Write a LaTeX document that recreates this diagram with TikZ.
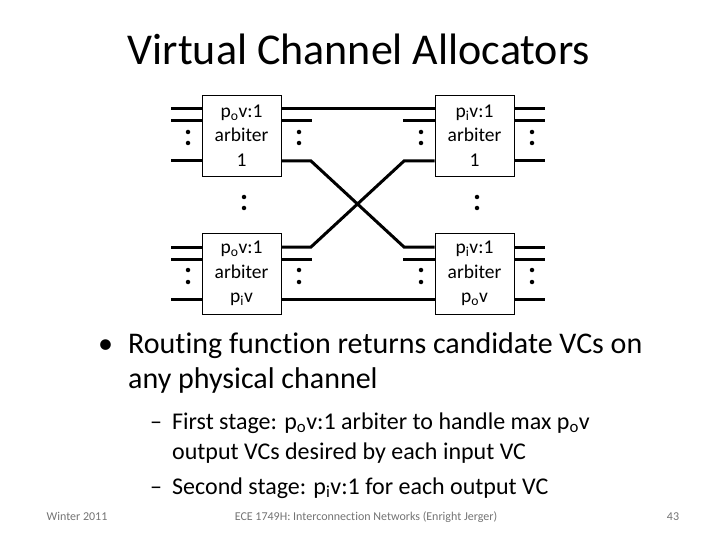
\documentclass[tikz,border=0pt]{standalone}
\usepackage{fontspec}
\setmainfont{Carlito}[Ligatures={NoCommon}]
\usetikzlibrary{calc}
\begin{document}
\begin{tikzpicture}[x=1pt,y=-1pt,
  box/.style={draw,line width=0.9pt,minimum width=79pt,minimum height=81pt,inner sep=0pt,align=center,font=\fontsize{19.5}{24.5}\selectfont},
  wire/.style={line width=3pt},
  vdot/.style={circle,fill,inner sep=0pt,minimum size=4.5pt},
  bul/.style={anchor=base west,inner sep=0pt,font=\fontsize{30}{34}\selectfont},
  sub/.style={anchor=base west,inner sep=0pt,font=\fontsize{24}{28}\selectfont},
  foot/.style={anchor=base,inner sep=0pt,text=black!55,font=\fontsize{12}{14}\selectfont}]
\useasboundingbox (0,0) rectangle (720,540);
% title
\node[anchor=base,inner sep=0pt,font=\fontsize{44}{50}\selectfont] (title) at (359,65) {Virtual Channel Allocators};
% boxes
\node[box] (A1) at (241.5,135.5) {p\textsubscript{o}v:1\\arbiter\\1};
\node[box] (A2) at (241.5,273.5) {p\textsubscript{o}v:1\\arbiter\\p\textsubscript{i}v};
\node[box] (B1) at (474.5,135.5) {p\textsubscript{i}v:1\\arbiter\\1};
\node[box] (B2) at (474.5,273.5) {p\textsubscript{i}v:1\\arbiter\\p\textsubscript{o}v};
% wire rows
\coordinate (r1) at (0,109);
\coordinate (r2) at (0,121);
\coordinate (r3) at (0,161);
\coordinate (s1) at (0,247);
\coordinate (s2) at (0,259);
\coordinate (s3) at (0,299);
% bend points of the crossing
\coordinate (ka) at (311,161);
\coordinate (kb) at (404,247);
\coordinate (kc) at (311,247);
\coordinate (kd) at (404,161);
% inputs of first stage
\foreach \b/\ra/\rb/\rc in {A1/r1/r2/r3, A2/s1/s2/s3}{
  \draw[wire] (\b.west |- \ra) -- ++(-31,0);
  \draw[wire] (\b.west |- \rb) -- ++(-31,0);
  \draw[wire] (\b.west |- \rc) -- ++(-31,0);
}
% outputs of second stage
\foreach \b/\ra/\rb/\rc in {B1/r1/r2/r3, B2/s1/s2/s3}{
  \draw[wire] (\b.east |- \ra) -- ++(31,0);
  \draw[wire] (\b.east |- \rb) -- ++(31,0);
  \draw[wire] (\b.east |- \rc) -- ++(31,0);
}
% stubs between the stages
\draw[wire] (A1.east |- r2) -- ++(31,0);
\draw[wire] (B1.west |- r2) -- ++(-32,0);
\draw[wire] (A2.east |- s2) -- ++(31,0);
\draw[wire] (B2.west |- s2) -- ++(-32,0);
% straight connections
\draw[wire] (A1.east |- r1) -- (B1.west |- r1);
\draw[wire] (A2.east |- s3) -- (B2.west |- s3);
% crossing connections
\draw[wire] (A1.east |- r3) -- (ka) -- (kb) -- (B2.west |- s1);
\draw[wire] (A2.east |- s1) -- (kc) -- (kd) -- (B1.west |- r3);
% dots
\foreach \x in {188,299,421,532}{
  \node[vdot] at (\x,132) {};
  \node[vdot] at (\x,143) {};
  \node[vdot] at (\x,270) {};
  \node[vdot] at (\x,282) {};
}
\node[vdot] (d1) at (244,197) {};
\node[vdot] (d2) at (244,208) {};
\node[vdot] (d3) at (477,197) {};
\node[vdot] (d4) at (477,208) {};
% bullet text
\node[bul] (b0) at (98,353) {•};
\node[bul] (b1) at (128,353) {Routing function returns candidate VCs on};
\node[bul] (b2) at (128,388) {any physical channel};
\node[sub] (c1) at (150,429) {–};
\node[sub] (c2) at (172,429) {First stage: p\textsubscript{o}v:1 arbiter to handle max p\textsubscript{o}v};
\node[sub] (c3) at (172,459) {output VCs desired by each input VC};
\node[sub] (c4) at (150,494) {–};
\node[sub] (c5) at (172,494) {Second stage: p\textsubscript{i}v:1 for each output VC};
% footer
\node[foot] (f1) at (77,520) {Winter 2011};
\node[foot] (f2) at (366,520) {ECE 1749H: Interconnection Networks (Enright Jerger)};
\node[foot] (f3) at (673,520) {43};
\end{tikzpicture}
\end{document}
